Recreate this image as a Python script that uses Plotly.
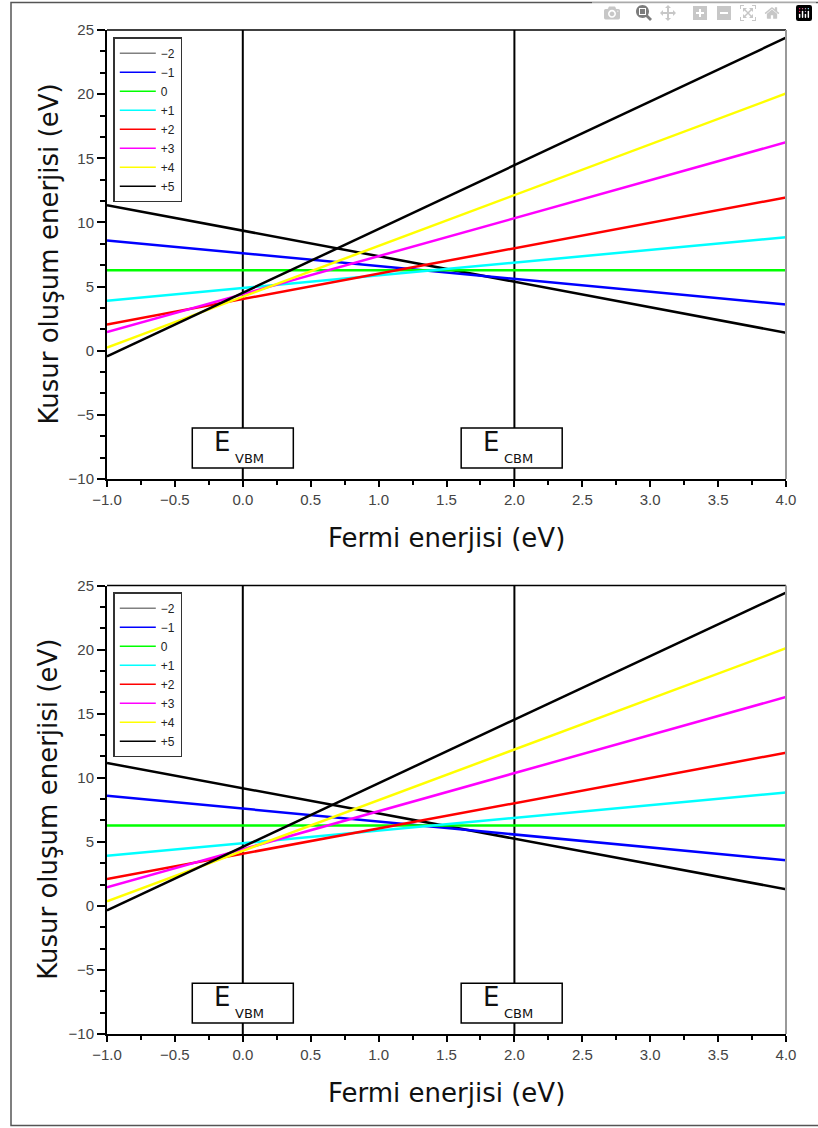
import plotly.graph_objects as go

# ---------------- data ----------------
fermi_x = [-1.0, 4.0]
charge_labels = ["\u22122", "\u22121", "0", "+1", "+2", "+3", "+4", "+5"]
top_at_xmin = [11.35, 8.6, 6.27, 3.9, 2.05, 1.45, 0.25, -0.45]
top_at_xmax = [1.4, 3.6, 6.27, 8.85, 11.95, 16.25, 20.05, 24.4]
bottom_at_xmin = [11.15, 8.6, 6.27, 3.9, 2.1, 1.45, 0.35, -0.35]
bottom_at_xmax = [1.3, 3.55, 6.27, 8.85, 11.95, 16.3, 20.1, 24.45]
band_edge_x = [0.0, 2.0]
band_edge_names = ["VBM", "CBM"]
x_ticks = [-1.0, -0.5, 0.0, 0.5, 1.0, 1.5, 2.0, 2.5, 3.0, 3.5, 4.0]
y_ticks = [-10, -5, 0, 5, 10, 15, 20, 25]
x_title = "Fermi enerjisi (eV)"
y_title = "Kusur olu\u015fum enerjisi (eV)"

# ---------------- styles ----------------
line_colors = ["#000000", "#0000ff", "#00ff00", "#00ffff", "#ff0000", "#ff00ff", "#ffff00", "#000000"]
legend_colors = ["#808080", "#0000ff", "#00ff00", "#00ffff", "#ff0000", "#ff00ff", "#ffff00", "#000000"]

W, H = 818, 1128


def px(x):
    return x / W


def py(y):
    return 1 - y / H


fig = go.Figure()

panels = [
    dict(xa="x", ya="y", legend="legend", start=top_at_xmin, end=top_at_xmax, top=30.0, bottom=479.0),
    dict(xa="x2", ya="y2", legend="legend2", start=bottom_at_xmin, end=bottom_at_xmax, top=585.5, bottom=1034.0),
]

for p in panels:
    # band edge vertical lines
    for ex in band_edge_x:
        fig.add_trace(go.Scatter(x=[ex, ex], y=[y_ticks[0], y_ticks[-1]], mode="lines",
                                 line=dict(color="black", width=2), showlegend=False,
                                 hoverinfo="skip", xaxis=p["xa"], yaxis=p["ya"]))
    # formation energy lines
    for lab, c, a, b in zip(charge_labels, line_colors, p["start"], p["end"]):
        fig.add_trace(go.Scatter(x=fermi_x, y=[a, b], mode="lines", name=lab,
                                 line=dict(color=c, width=2.5), showlegend=False,
                                 xaxis=p["xa"], yaxis=p["ya"]))
    # legend entries
    for lab, c in zip(charge_labels, legend_colors):
        fig.add_trace(go.Scatter(x=[None], y=[None], mode="lines", name=lab,
                                 line=dict(color=c, width=1.5), showlegend=True,
                                 legend=p["legend"], xaxis=p["xa"], yaxis=p["ya"]))

tickfont = dict(family="Liberation Sans", size=15, color="#444444")

axis_common_x = dict(range=[fermi_x[0], fermi_x[1]], tickvals=x_ticks, tickformat=".1f",
                     ticks="outside", ticklen=6, tickwidth=2, tickcolor="black",
                     showline=True, linecolor="black", linewidth=2, showgrid=False,
                     zeroline=False, tickfont=tickfont, automargin=False,
                     minor=dict(dtick=0.25, ticks="outside", ticklen=4, tickwidth=2,
                                tickcolor="black", showgrid=False))
axis_common_y = dict(range=[y_ticks[0], y_ticks[-1]], tickvals=y_ticks,
                     ticks="outside", ticklen=8, tickwidth=2, tickcolor="black",
                     showline=True, linecolor="black", linewidth=2, showgrid=False,
                     zeroline=False, tickfont=tickfont, automargin=False,
                     minor=dict(tick0=-10, dtick=5 / 3, ticks="outside", ticklen=5, tickwidth=2,
                                tickcolor="black", showgrid=False))

xdom = [px(107), px(786)]

shapes = []
annotations = []
layout_extra = {}
for i, p in enumerate(panels):
    xk = "xaxis" if i == 0 else "xaxis2"
    yk = "yaxis" if i == 0 else "yaxis2"
    layout_extra[xk] = dict(axis_common_x, domain=xdom, anchor=p["ya"])
    layout_extra[yk] = dict(axis_common_y, domain=[py(p["bottom"]), py(p["top"])], anchor=p["xa"])

    dxr = p["xa"] + " domain"
    dyr = p["ya"] + " domain"
    # top border
    shapes.append(dict(type="line", xref=dxr, yref=dyr, x0=0, x1=1, y0=1, y1=1,
                       line=dict(color="black", width=1.5), layer="above"))
    # right border (grey)
    shapes.append(dict(type="line", xref=dxr, yref=dyr, x0=1, x1=1, y0=0, y1=1,
                       line=dict(color="#999999", width=2), layer="above"))
    # band edge label boxes
    for ex, nm, cx in zip(band_edge_x, band_edge_names, [0.0, 1.98]):
        shapes.append(dict(type="rect", xref=p["xa"], yref=p["ya"],
                           x0=cx - 0.372, x1=cx + 0.372, y0=-9.15, y1=-6.03,
                           line=dict(color="black", width=1.5), fillcolor="white", layer="above"))
        annotations.append(dict(xref=p["xa"], yref=p["ya"], x=cx - 0.152, y=-7.15, text="E",
                                showarrow=False, xanchor="center", yanchor="middle",
                                font=dict(family="DejaVu Sans", size=26, color="#111111")))
        annotations.append(dict(xref=p["xa"], yref=p["ya"], x=cx + 0.052, y=-8.4, text=nm,
                                showarrow=False, xanchor="center", yanchor="middle",
                                font=dict(family="DejaVu Sans", size=13, color="#111111")))
    # axis titles
    mid_y = (p["top"] + p["bottom"]) / 2
    annotations.append(dict(xref="paper", yref="paper", x=px(446.5), y=py(p["bottom"] + 59),
                            text=x_title, showarrow=False, xanchor="center", yanchor="middle",
                            font=dict(family="DejaVu Sans", size=26, color="#111111")))
    annotations.append(dict(xref="paper", yref="paper", x=px(48), y=py(mid_y),
                            text=y_title, showarrow=False, xanchor="center", yanchor="middle",
                            textangle=-90,
                            font=dict(family="DejaVu Sans", size=26, color="#111111")))

# outer frame
shapes.append(dict(type="rect", xref="paper", yref="paper", x0=px(11), x1=px(830),
                   y0=py(1125.5), y1=py(2.5), line=dict(color="#555555", width=1.5),
                   fillcolor="rgba(0,0,0,0)", layer="above"))

legend_common = dict(xanchor="left", yanchor="top", bordercolor="#333333", borderwidth=1.5,
                     bgcolor="white", tracegroupgap=0, itemwidth=36,
                     font=dict(family="Liberation Sans", size=12, color="#222222"))

fig.update_layout(
    width=W, height=H,
    margin=dict(l=0, r=0, t=0, b=0, autoexpand=False),
    paper_bgcolor="white", plot_bgcolor="white",
    shapes=shapes, annotations=annotations,
    legend=dict(legend_common, x=px(113.3), y=py(37.3)),
    legend2=dict(legend_common, x=px(113.3), y=py(592.3)),
    **layout_extra,
)

fig.write_html("out.html", post_script="document.body.style.margin='0';")
